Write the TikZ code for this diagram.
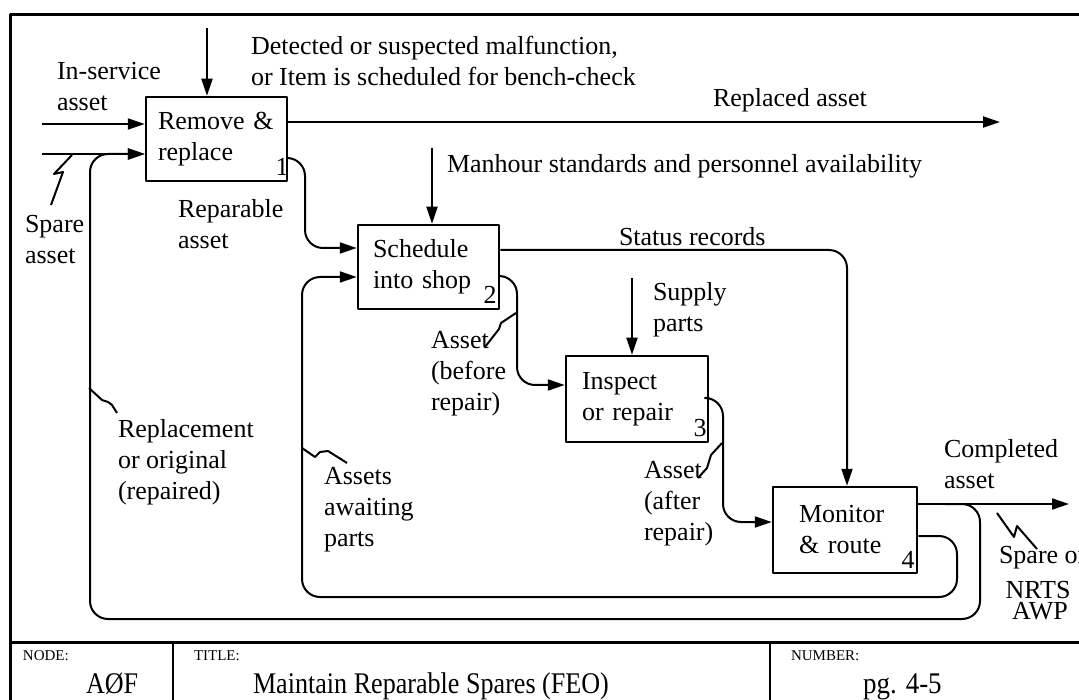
\documentclass[tikz,border=0pt]{standalone}
\usepackage{fontspec}
\setmainfont{Liberation Serif}
\usetikzlibrary{arrows.meta}
\begin{document}
\begin{tikzpicture}[x=1pt,y=-1pt,line width=2pt,line join=round,
  font=\fontsize{26}{31}\selectfont,
  arr/.style={-{Triangle[length=17pt,width=11pt]}},
  rc/.style={rounded corners=18pt},
  box/.style={draw,line width=2.5pt,align=left,minimum height=85pt,inner ysep=0pt},
  lbl/.style={anchor=west,align=left,inner sep=0pt},
  num/.style={inner sep=0pt},
  tiny/.style={anchor=west,inner sep=0pt,font=\fontsize{15}{16}\selectfont},
  big/.style={anchor=base west,inner sep=0pt,font=\fontsize{30}{32}\selectfont}]
\useasboundingbox (0,0) rectangle (1079,700);
% frame and title block
\draw[line width=3pt] (10,700) -- (10,15) -- (1085,15);
\draw[line width=3pt] (10,642) -- (1085,642);
\draw[line width=2.5pt] (173,642) -- (173,700);
\draw[line width=2.5pt] (770,642) -- (770,700);
\node[tiny] (tnode) at (22,656) {NODE:};
\node[tiny] (ttitle) at (193,656) {TITLE:};
\node[tiny] (tnum) at (790,656) {NUMBER:};
\node[big] (vnode) at (85,693) {\scalebox{0.87}[1]{AØF}};
\node[big] (vtitle) at (252,693) {\scalebox{0.87}[1]{Maintain Reparable Spares (FEO)}};
\node[big] (vnum) at (862,693) {\scalebox{0.9}[1]{pg. 4-5}};
% boxes
\node[box,inner xsep=12pt,text width=117pt,minimum height=84pt] (b1) at (216.5,139) {Remove \&\\replace};
\node[box,inner xsep=15pt,text width=111pt,minimum height=84pt] (b2) at (428.5,267) {Schedule\\into shop};
\node[box,inner xsep=16pt,text width=110pt,minimum height=86pt] (b3) at (637,399) {Inspect\\or repair};
\node[box,inner xsep=26pt,text width=92pt,minimum height=86pt] (b4) at (845,530) {Monitor\\\& route};
\node[num] (n1) at (282,167) {1};
\node[num] (n2) at (490,295) {2};
\node[num] (n3) at (700,428) {3};
\node[num] (n4) at (908,560) {4};
% free ends
\coordinate (c1) at (207,28);
\coordinate (c2) at (432,148);
\coordinate (c3) at (632,278);
\coordinate (in1) at (42,124);
\coordinate (in2) at (42,154);
\coordinate (out1) at (1000,122);
\coordinate (out4) at (1069,504);
% controls
\draw[arr] (c1) -- (c1 |- b1.north);
\draw[arr] (c2) -- (c2 |- b2.north);
\draw[arr] (c3) -- (c3 |- b3.north);
% inputs
\draw[arr] (in1) -- (in1 -| b1.west);
\draw[arr] (in2) -- (in2 -| b1.west);
% outputs
\draw[arr] (b1.east |- out1) -- (out1);
\draw[arr,rc] (b1.east |- 0,158) -- (305,158) -- (305,248) -- (b2.west |- 0,248);
\draw[arr,rc] (b2.east |- 0,250) -- (847,250) -- (847,0 |- b4.north);
\draw[arr,rc] (b2.east |- 0,276) -- (517,276) -- (517,385) -- (b3.west |- 0,385);
\draw[arr,rc] (b3.east |- 0,398) -- (723,398) -- (723,522) -- (b4.west |- 0,522);
\draw[arr] (b4.east |- out4) -- (out4);
% feedback loops
\draw[arr,rc] (945,504) -- (980,504) -- (980,619) -- (90,619) -- (90,154) -- (b1.west |- 0,154);
\draw[arr,rc] (b4.east |- 0,536) -- (957,536) -- (957,597) -- (302,597) -- (302,277) -- (b2.west |- 0,277);
% squiggles
\draw (72,155) -- (54,174) -- (63,172) -- (51,205);
\draw (997,513) -- (1014,537) -- (1017,526) -- (1037,549);
\draw (516,313) -- (501,323) -- (499,329) -- (485,347);
\draw (722,443) -- (711,455) -- (707,468) -- (698,478);
\draw (89,388) -- (102,400) -- (108,402) -- (112,405) -- (117,413);
\draw (302,448) -- (315,457) -- (320,452) -- (328,451) -- (347,463);
% labels
\node[lbl] (tdet) at (250,61) {Detected or suspected malfunction,\\or Item is scheduled for bench-check};
\node[lbl] (tins) at (56,87) {In-service\\asset};
\node[lbl] (trep) at (712,100) {Replaced asset};
\node[lbl] (tman) at (446,166) {Manhour standards and personnel availability};
\node[lbl] (tspare) at (24,240) {Spare\\asset};
\node[lbl] (tpar) at (177,224) {Reparable\\asset};
\node[lbl] (tstat) at (618,237) {Status records};
\node[lbl] (tsup) at (652,310) {Supply\\parts};
\node[lbl] (tbef) at (430,374) {Asset\\(before\\repair)};
\node[lbl] (trepl) at (117,462) {Replacement\\or original\\(repaired)};
\node[lbl] (tawait) at (323,510) {Assets\\awaiting\\parts};
\node[lbl] (tcomp) at (943,464) {Completed\\asset};
\node[lbl] (taft) at (643,504) {Asset\\(after\\repair)};
\node[lbl] (tsor) at (998,558) {Spare or};
\node[inner sep=0pt] (tnrts) at (1038,590) {NRTS};
\node[inner sep=0pt] (tawp) at (1040,611) {AWP};
\end{tikzpicture}
\end{document}
